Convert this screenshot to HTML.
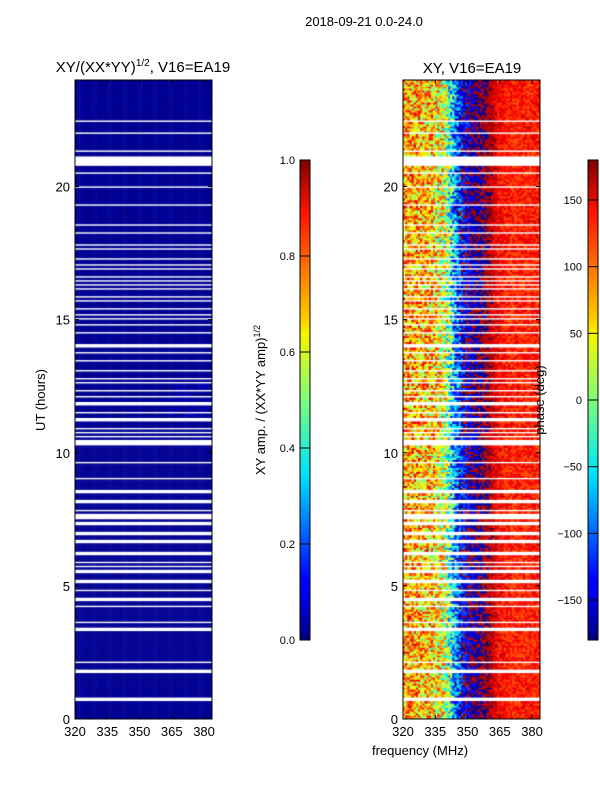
<!DOCTYPE html>
<html><head><meta charset="utf-8"><style>
body{margin:0;background:#fff;width:600px;height:800px;overflow:hidden;font-family:"Liberation Sans","DejaVu Sans",sans-serif;}
svg text{font-family:"Liberation Sans","DejaVu Sans",sans-serif;fill:#000;}
canvas{position:absolute;}
</style></head><body>
<canvas id="hm1" width="137" height="639" style="left:75px;top:80px"></canvas>
<canvas id="hm2" width="137" height="639" style="left:403px;top:80px"></canvas>
<svg id="s" width="600" height="800" style="position:absolute;left:0;top:0">
<text x="364" y="26" font-size="13" text-anchor="middle">2018-09-21 0.0-24.0</text>
<text x="143" y="72" font-size="15" text-anchor="middle">XY/(XX*YY)<tspan font-size="10" dy="-6">1/2</tspan><tspan dy="6">, V16=EA19</tspan></text>
<text x="472" y="73" font-size="15" text-anchor="middle">XY, V16=EA19</text>
<text transform="translate(45,400) rotate(-90)" font-size="13" text-anchor="middle">UT (hours)</text>
<text transform="translate(265,400) rotate(-90)" font-size="13" text-anchor="middle">XY amp. / (XX*YY amp)<tspan font-size="9" dy="-5">1/2</tspan></text>
<text transform="translate(544,400) rotate(-90)" font-size="13" text-anchor="middle">phase (deg)</text>
<text x="420" y="755" font-size="13" text-anchor="middle">frequency (MHz)</text>
<defs>
<linearGradient id="jet" x1="0" y1="1" x2="0" y2="0">
<stop offset="0" stop-color="#000080"/><stop offset="0.11" stop-color="#0000ff"/><stop offset="0.125" stop-color="#0000ff"/>
<stop offset="0.34" stop-color="#00dcff"/><stop offset="0.35" stop-color="#00e4f8"/><stop offset="0.5" stop-color="#7dff7a"/>
<stop offset="0.64" stop-color="#f8f500"/><stop offset="0.66" stop-color="#ffd400"/><stop offset="0.89" stop-color="#ff1300"/><stop offset="1" stop-color="#800000"/>
</linearGradient></defs>
<g id="axes"></g>
</svg>
<script>
const freqNodes=[320,324,328,332,336,340,344,348,352,356,360,364,368,372,376,380,384];
const phaseProfile=[80,75,70,62,50,20,-80,-150,-165,-178,165,140,128,125,125,127,127];
const phaseSpread=[75,75,75,75,80,90,85,60,40,30,25,25,25,25,25,25,25];
const gapTimes=[22.57,22.46,22.01,21.75,21.33,20.49,19.98,19.31,18.82,18.59,18.29,18.07,17.92,17.80,17.65,17.31,17.05,16.94,16.64,16.45,16.30,16.15,15.85,15.70,15.44,15.21,15.06,14.84,14.54,14.05,13.75,13.48,13.11,12.81,12.62,12.36,12.13,11.91,11.79,11.49,11.31,11.23,10.93,10.74,10.59,10.48,10.33,9.65,9.05,8.60,8.53,8.15,7.85,7.66,7.55,7.40,7.32,6.99,6.65,6.23,5.86,5.75,5.60,5.52,5.15,4.81,4.51,4.21,3.83,3.64,3.42,3.34,3.23,3.00,2.70,2.48,2.14,2.03,1.77,0.75,0.60];
const gapWidths=[0.06,0.06,0.06,0.06,0.06,0.06,0.06,0.06,0.06,0.06,0.06,0.06,0.06,0.06,0.06,0.06,0.06,0.06,0.06,0.06,0.06,0.06,0.06,0.06,0.06,0.06,0.06,0.06,0.06,0.15,0.06,0.06,0.06,0.06,0.06,0.06,0.06,0.06,0.06,0.06,0.06,0.06,0.06,0.06,0.06,0.06,0.15,0.06,0.06,0.06,0.06,0.15,0.06,0.15,0.06,0.06,0.06,0.15,0.15,0.15,0.06,0.06,0.06,0.06,0.15,0.06,0.15,0.06,0.06,0.06,0.06,0.06,0.06,0.06,0.06,0.06,0.06,0.06,0.15,0.15,0.06];
const bigGap=[20.77,21.18];
const ampBase=0.01;
const ampPatch={t0:11.3,t1:12.6,f0:365,f1:382,val:0.07};
const xTicks=[320,335,350,365,380];
const yTicks=[0,5,10,15,20];
const ampTicks=[0.0,0.2,0.4,0.6,0.8,1.0];
const phaseTicks=[-150,-100,-50,0,50,100,150];

const W=137,H=639,F0=320,F1=383.7,T1=24;
const xs=f=>(f-F0)/(F1-F0)*W, ts=t=>H-t/T1*H;
function jet(v){v=Math.max(0,Math.min(1,v));
 const r=Math.max(0,Math.min(1,1.5-Math.abs(4*v-3))),g=Math.max(0,Math.min(1,1.5-Math.abs(4*v-2))),b=Math.max(0,Math.min(1,1.5-Math.abs(4*v-1)));
 return [r*255|0,g*255|0,b*255|0];}
function hash(i,j){let h=(i*374761393+j*668265263)|0;h=(h^(h>>>13))*1274126177|0;h^=h>>>16;return ((h>>>0)%10000)/10000;}
function interp(f,arr){for(let k=0;k<freqNodes.length-1;k++){if(f<=freqNodes[k+1]){const a=(f-freqNodes[k])/(freqNodes[k+1]-freqNodes[k]);let p=arr[k],q=arr[k+1];if(arr===phaseProfile&&Math.abs(q-p)>180){q+= q<p?360:-360;}return p+a*(q-p);}}return arr[arr.length-1];}
function isGap(t){if(t>=bigGap[0]&&t<=bigGap[1])return true;for(let k=0;k<gapTimes.length;k++)if(Math.abs(t-gapTimes[k])<gapWidths[k]/2)return true;return false;}
const c1=document.getElementById('hm1').getContext('2d'),c2=document.getElementById('hm2').getContext('2d');
const NF=64,NT=320;
for(let j=0;j<NT;j++){const t=(j+0.5)/NT*T1;if(isGap(t))continue;
 const y0=ts((j+1)/NT*T1),y1=ts(j/NT*T1);
 for(let i=0;i<NF;i++){const f=F0+(i+0.5)*(F1-F0)/NF;const x0=xs(F0+i*(F1-F0)/NF),x1=xs(F0+(i+1)*(F1-F0)/NF);
  let a=ampBase+0.02*hash(i,j);if(t>ampPatch.t0&&t<ampPatch.t1&&f>ampPatch.f0&&f<ampPatch.f1)a=ampPatch.val*hash(j,i);
  let c=jet(a);c1.fillStyle=`rgb(${c[0]},${c[1]},${c[2]})`;c1.fillRect(x0,y0,x1-x0+0.5,y1-y0+0.5);
  let p=interp(f,phaseProfile)+(hash(i,j)-0.5)*2*interp(f,phaseSpread);
  p=((p+180)%360+360)%360-180;c=jet((p+180)/360);
  c2.fillStyle=`rgb(${c[0]},${c[1]},${c[2]})`;c2.fillRect(x0,y0,x1-x0+0.5,y1-y0+0.5);}}
const NS='http://www.w3.org/2000/svg',g=document.getElementById('axes');
function el(tag,at,txt){const e=document.createElementNS(NS,tag);for(const k in at)e.setAttribute(k,at[k]);if(txt!==undefined)e.textContent=txt;g.appendChild(e);return e;}
[[75,'left'],[403,'right']].forEach(([px,nm])=>{
 const f=el('rect',{x:px,y:80,width:W,height:H,fill:'none',stroke:'#000','stroke-width':1});
 
 
 xTicks.forEach(v=>{const x=px+xs(v);el('line',{x1:x,x2:x,y1:719,y2:715,stroke:'#000'});el('line',{x1:x,x2:x,y1:80,y2:84,stroke:'#000'});
  const t=el('text',{x:x,y:736,'font-size':13,'text-anchor':'middle'},v);
  
  });
 yTicks.forEach(v=>{const y=80+ts(v);el('line',{x1:px,x2:px+4,y1:y,y2:y,stroke:'#000'});el('line',{x1:px+W,x2:px+W-4,y1:y,y2:y,stroke:'#000'});
  const t=el('text',{x:px-5,y:y+5,'font-size':13,'text-anchor':'end'},v);
  
  });
});
[[300,ampTicks,0,1,'amp'],[588,phaseTicks,-180,180,'phase']].forEach(([cx,ticks,lo,hi,nm])=>{
 const r=el('rect',{x:cx,y:160,width:10,height:480,fill:'url(#jet)',stroke:'#000','stroke-width':1});
 
 
 ticks.forEach(v=>{const y=640-(v-lo)/(hi-lo)*480;el('line',{x1:cx,x2:cx+10,y1:y,y2:y,stroke:'#000'});
  const t=el('text',{x:nm==='amp'?cx-5:cx-6,y:y+4,'font-size':11,'text-anchor':'end'},nm==='amp'?v.toFixed(1):(v<0?'\u2212'+(-v):v));
  
  });
});
</script>
</body></html>
